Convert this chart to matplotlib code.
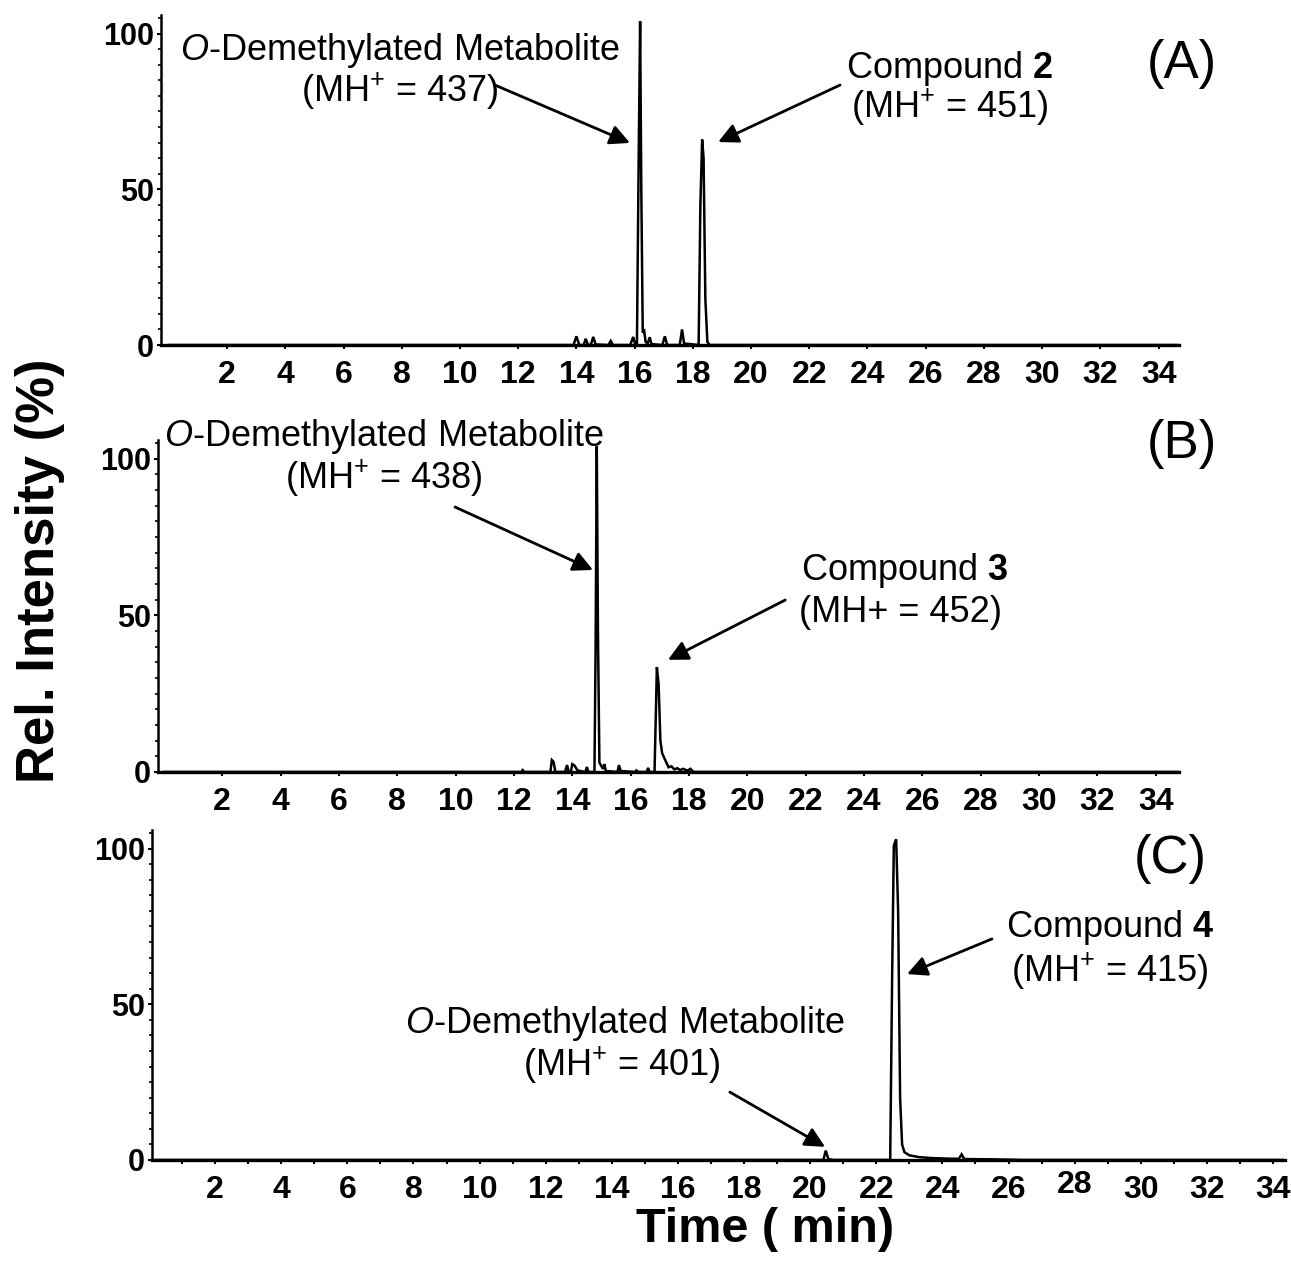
import matplotlib
matplotlib.use('Agg')
import matplotlib.pyplot as plt
from matplotlib.ticker import MultipleLocator

plt.rcParams['font.family'] = ['Liberation Sans', 'DejaVu Sans']
plt.rcParams['mathtext.fontset'] = 'custom'
plt.rcParams['mathtext.rm'] = 'Liberation Sans'
plt.rcParams['mathtext.it'] = 'Liberation Sans:italic'
plt.rcParams['mathtext.bf'] = 'Liberation Sans:bold'
plt.rcParams['mathtext.default'] = 'regular'

# chromatogram traces (time in min, rel. intensity in %)
time_a = [0, 13.9, 14.0, 14.1, 14.25, 14.32, 14.4, 14.5, 14.58, 14.66, 15.1, 15.18, 15.26,
          15.85, 15.95, 16.02, 16.08, 16.14, 16.19, 16.23, 16.28, 16.33, 16.38, 16.45, 16.52,
          16.58, 16.95, 17.04, 17.12, 17.55, 17.63, 17.7, 18.2, 18.26, 18.32, 18.37, 18.43,
          18.5, 18.58, 34.7]
int_a = [0, 0, 2.8, 0, 0, 2.0, 0, 0.2, 2.6, 0.2, 0, 1.3, 0,
         0, 2.6, 0.3, 0, 60, 104, 50, 4, 4.5, 1, 0.5, 2.5,
         0.3, 0, 2.8, 0, 0, 5.0, 0.5, 0, 45, 66, 60, 15,
         1, 0, 0]

time_b = [0, 12.25, 12.3, 12.35, 13.25, 13.3, 13.36, 13.42, 13.75, 13.82, 13.88, 13.95, 14.0,
          14.08, 14.18, 14.28, 14.45, 14.5, 14.55, 14.76, 14.8, 14.84, 14.88, 14.93, 15.05,
          15.1, 15.15, 15.55, 15.6, 15.66, 16.15, 16.2, 16.25, 16.55, 16.6, 16.65, 16.82,
          16.9, 16.96, 17.02, 17.08, 17.2, 17.3, 17.4, 17.5, 17.6, 17.7, 17.8, 17.95, 18.05,
          18.15, 34.8]
int_b = [0, 0, 0.6, 0, 0, 3.8, 3.2, 0, 0, 2.2, 0, 0, 2.5,
         2.0, 0.5, 0.3, 0, 1.6, 0, 0, 40, 104, 45, 3, 1,
         2.5, 0.3, 0, 2.2, 0.3, 0, 0.5, 0, 0, 1.3, 0, 0,
         33.5, 28, 10, 6, 3.5, 1.5, 1.8, 0.8, 1.2, 0.6, 1.0, 0.4, 1.0,
         0, 0]

time_c = [0.1, 20.4, 20.47, 20.55, 20.7, 22.42, 22.48, 22.53, 22.6, 22.66, 22.72, 22.78,
          22.85, 23.0, 23.3, 23.7, 24.3, 24.5, 24.58, 24.66, 25.5, 26.5, 34.3]
int_c = [0, 0, 3.0, 0.3, 0, 0, 60, 101, 103, 80, 20, 5,
         2.5, 1.5, 0.9, 0.6, 0.4, 0.4, 1.8, 0.3, 0.2, 0, 0]

x_ticks = list(range(2, 35, 2))
y_ticks = [0, 50, 100]

fig = plt.figure(figsize=(12.91, 12.68), dpi=100)

ax_a = fig.add_axes([0.1247, 0.7279, 0.7885, 0.2603])
ax_b = fig.add_axes([0.1224, 0.3912, 0.7909, 0.2618])
ax_c = fig.add_axes([0.1177, 0.0852, 0.8776, 0.2603])

panels = [(ax_a, time_a, int_a, (-0.27, 34.7)),
          (ax_b, time_b, int_b, (-0.2, 34.8)),
          (ax_c, time_c, int_c, (0.09, 34.36))]

for ax, t, y, xl in panels:
    ax.plot(t, y, color='k', lw=1.8, solid_joinstyle='miter')
    ax.set_xlim(xl)
    ax.set_ylim(0, 106)
    ax.spines['top'].set_visible(False)
    ax.spines['right'].set_visible(False)
    ax.spines['left'].set_linewidth(1.8)
    ax.spines['bottom'].set_linewidth(2.4)
    ax.set_xticks(x_ticks)
    ax.set_yticks(y_ticks)
    ax.yaxis.set_minor_locator(MultipleLocator(5))
    ax.tick_params(axis='x', which='major', length=3, width=1.5, pad=8, labelsize=23)
    ax.tick_params(axis='y', which='major', length=3, width=1.5, pad=2, labelsize=22)
    ax.tick_params(axis='y', which='minor', length=2.5, width=1.2)
    for lab in ax.get_xticklabels() + ax.get_yticklabels():
        lab.set_fontweight('bold')

ax_c.xaxis.set_minor_locator(MultipleLocator(1))
ax_c.tick_params(axis='x', which='minor', length=3, width=1.5)
for lab in ax_c.get_xticklabels():
    if lab.get_text() == '28':
        lab.set_y(0.017)

arrow = dict(arrowstyle='-|>', color='k', lw=2, mutation_scale=30, shrinkA=0, shrinkB=0)
txt = dict(fontsize=26, ha='center', va='baseline')

# panel A
ax_a.text(7.94, 91.5, r'$\mathit{O}$-Demethylated Metabolite', **txt)
ax_a.text(7.94, 78.0, r'(MH$^{+}$ = 437)', **txt)
ax_a.annotate('', xy=(15.84, 64.9), xytext=(11.2, 83.5), arrowprops=arrow)
ax_a.text(26.84, 85.8, r'Compound $\mathbf{2}$', **txt)
ax_a.text(26.84, 72.9, r'(MH$^{+}$ = 451)', **txt)
ax_a.annotate('', xy=(18.87, 65.2), xytext=(23.06, 83.5), arrowprops=arrow)
ax_a.text(34.8, 85.8, '(A)', fontsize=38, ha='center', va='baseline')

# panel B
ax_b.text(7.54, 104.1, r'$\mathit{O}$-Demethylated Metabolite', clip_on=False, **txt)
ax_b.text(7.54, 90.4, r'(MH$^{+}$ = 438)', **txt)
ax_b.annotate('', xy=(14.71, 64.5), xytext=(9.98, 84.6), arrowprops=arrow)
ax_b.text(25.41, 61.3, r'Compound $\mathbf{3}$', **txt)
ax_b.text(25.24, 47.9, '(MH+ = 452)', **txt)
ax_b.annotate('', xy=(17.28, 35.8), xytext=(21.3, 54.9), arrowprops=arrow)
ax_b.text(34.9, 100.3, '(B)', fontsize=38, ha='center', va='baseline')

# panel C
ax_c.text(29.07, 71.6, r'Compound $\mathbf{4}$', **txt)
ax_c.text(29.07, 57.2, r'(MH$^{+}$ = 415)', **txt)
ax_c.annotate('', xy=(22.93, 59.7), xytext=(25.5, 71.0), arrowprops=arrow)
ax_c.text(14.4, 40.8, r'$\mathit{O}$-Demethylated Metabolite', **txt)
ax_c.text(14.3, 27.0, r'(MH$^{+}$ = 401)', **txt)
ax_c.annotate('', xy=(20.45, 4.2), xytext=(17.57, 21.8), arrowprops=arrow)
ax_c.text(30.9, 92.2, '(C)', fontsize=38, ha='center', va='baseline')

fig.text(0.031, 0.55, 'Rel. Intensity (%)', rotation=90, fontsize=38,
         fontweight='bold', ha='center', va='center')
fig.text(0.5925, 0.030, 'Time ( min)', fontsize=35, fontweight='bold',
         ha='center', va='center')

fig.savefig('out.png', dpi=100)
